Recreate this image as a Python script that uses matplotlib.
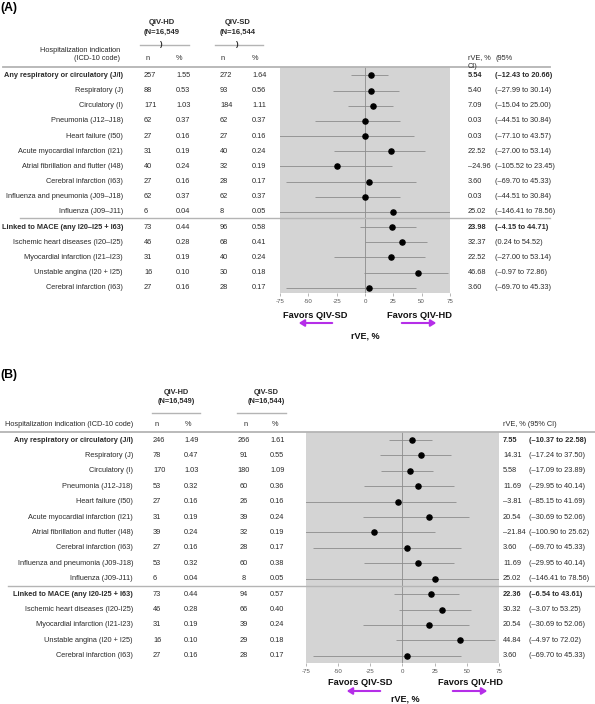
import matplotlib
matplotlib.use("Agg")
import matplotlib.pyplot as plt
from matplotlib.patches import FancyArrowPatch
from matplotlib.transforms import blended_transform_factory

plt.rcParams['font.family'] = ['Liberation Sans', 'DejaVu Sans']

# ===================
# DATA
# ===================
labels_a = ["Any respiratory or circulatory (J/I)", "Respiratory (J)", "Circulatory (I)",
            "Pneumonia (J12–J18)", "Heart failure (I50)", "Acute myocardial infarction (I21)",
            "Atrial fibrillation and flutter (I48)", "Cerebral infarction (I63)",
            "Influenza and pneumonia (J09–J18)", "Influenza (J09–J11)",
            "Linked to MACE (any I20–I25 + I63)", "Ischemic heart diseases (I20–I25)",
            "Myocardial infarction (I21–I23)", "Unstable angina (I20 + I25)",
            "Cerebral infarction (I63)"]
hd_n_a = [257, 88, 171, 62, 27, 31, 40, 27, 62, 6, 73, 46, 31, 16, 27]
hd_pct_a = ["1.55", "0.53", "1.03", "0.37", "0.16", "0.19", "0.24", "0.16", "0.37", "0.04",
            "0.44", "0.28", "0.19", "0.10", "0.16"]
sd_n_a = [272, 93, 184, 62, 27, 40, 32, 28, 62, 8, 96, 68, 40, 30, 28]
sd_pct_a = ["1.64", "0.56", "1.11", "0.37", "0.16", "0.24", "0.19", "0.17", "0.37", "0.05",
            "0.58", "0.41", "0.24", "0.18", "0.17"]
rve_a = [5.54, 5.40, 7.09, 0.03, 0.03, 22.52, -24.96, 3.60, 0.03, 25.02,
         23.98, 32.37, 22.52, 46.68, 3.60]
lo_a = [-12.43, -27.99, -15.04, -44.51, -77.10, -27.00, -105.52, -69.70, -44.51, -146.41,
        -4.15, 0.24, -27.00, -0.97, -69.70]
hi_a = [20.66, 30.14, 25.00, 30.84, 43.57, 53.14, 23.45, 45.33, 30.84, 78.56,
        44.71, 54.52, 53.14, 72.86, 45.33]

labels_b = ["Any respiratory or circulatory (J/I)", "Respiratory (J)", "Circulatory (I)",
            "Pneumonia (J12-J18)", "Heart failure (I50)", "Acute myocardial infarction (I21)",
            "Atrial fibrillation and flutter (I48)", "Cerebral infarction (I63)",
            "Influenza and pneumonia (J09-J18)", "Influenza (J09-J11)",
            "Linked to MACE (any I20-I25 + I63)", "Ischemic heart diseases (I20-I25)",
            "Myocardial infarction (I21-I23)", "Unstable angina (I20 + I25)",
            "Cerebral infarction (I63)"]
hd_n_b = [246, 78, 170, 53, 27, 31, 39, 27, 53, 6, 73, 46, 31, 16, 27]
hd_pct_b = ["1.49", "0.47", "1.03", "0.32", "0.16", "0.19", "0.24", "0.16", "0.32", "0.04",
            "0.44", "0.28", "0.19", "0.10", "0.16"]
sd_n_b = [266, 91, 180, 60, 26, 39, 32, 28, 60, 8, 94, 66, 39, 29, 28]
sd_pct_b = ["1.61", "0.55", "1.09", "0.36", "0.16", "0.24", "0.19", "0.17", "0.38", "0.05",
            "0.57", "0.40", "0.24", "0.18", "0.17"]
rve_b = [7.55, 14.31, 5.58, 11.69, -3.81, 20.54, -21.84, 3.60, 11.69, 25.02,
         22.36, 30.32, 20.54, 44.84, 3.60]
lo_b = [-10.37, -17.24, -17.09, -29.95, -85.15, -30.69, -100.90, -69.70, -29.95, -146.41,
        -6.54, -3.07, -30.69, -4.97, -69.70]
hi_b = [22.58, 37.50, 23.89, 40.14, 41.69, 52.06, 25.62, 45.33, 40.14, 78.56,
        43.61, 53.25, 52.06, 72.02, 45.33]

BOLD_ROWS = [0, 10]
TICKS = [-75, -50, -25, 0, 25, 50, 75]

# ===================
# CONFIGURATION (pixel layout)
# ===================
W, H = 595, 704
FS = 5.3
TXT = '#2a2a2a'
GRAY_BG = '#d4d4d4'
LINE_GRAY = '#8c8c8c'
RULE_GRAY = '#b4b4b4'
PURPLE = '#b52ee8'

fig = plt.figure(figsize=(W / 100, H / 100), dpi=100)


def fx(px):
    return px / W


def fy(py):
    return 1 - py / H


def fmt(v):
    s = f"{abs(v):.2f}"
    return ("–" + s) if v < 0 else s


def panel(cfg, labels, hd_n, hd_pct, sd_n, sd_pct, rve, lo, hi):
    left, right, top, bottom = cfg['plot_box']
    ax = fig.add_axes([fx(left), fy(bottom), fx(right - left), (bottom - top) / H])
    ax.set_facecolor(GRAY_BG)
    ax.set_xlim(-75, 75)
    ax.set_ylim(*cfg['ylim'])
    for s in ax.spines.values():
        s.set_visible(False)
    ax.set_yticks([])
    ax.set_xticks(TICKS)
    ax.set_xticklabels([str(t) for t in TICKS])
    ax.tick_params(axis='x', length=2, width=0.5, color='#999999', labelsize=4.4,
                   labelcolor='#555555', pad=2)
    ax.axvline(0, color=LINE_GRAY, lw=0.6, zorder=1)

    rows = list(range(len(labels)))
    ax.hlines(rows, lo, hi, color=LINE_GRAY, lw=0.6, zorder=2)
    ax.plot(rve, rows, 'o', color='black', ms=3.7, zorder=3)

    tr = blended_transform_factory(fig.transFigure, ax.transData)
    for i in rows:
        w = 'bold' if i in BOLD_ROWS else 'normal'
        ax.text(fx(cfg['label_x']), i, labels[i], transform=tr, ha='right', va='center',
                fontsize=FS, weight=w, color=TXT)
        ax.text(fx(cfg['hd_n_x']), i, str(hd_n[i]), transform=tr, ha='left', va='center',
                fontsize=FS, color=TXT)
        ax.text(fx(cfg['hd_p_x']), i, hd_pct[i], transform=tr, ha='left', va='center',
                fontsize=FS, color=TXT)
        ax.text(fx(cfg['sd_n_x']), i, str(sd_n[i]), transform=tr, ha=cfg['sd_n_ha'],
                va='center', fontsize=FS, color=TXT)
        ax.text(fx(cfg['sd_p_x']), i, sd_pct[i], transform=tr, ha='left', va='center',
                fontsize=FS, color=TXT)
        ax.text(fx(cfg['val_x']), i, fmt(rve[i]), transform=tr, ha='left', va='center',
                fontsize=FS, weight=w, color=TXT)
        ax.text(fx(cfg['ci_x']), i, f"({fmt(lo[i])} to {fmt(hi[i])})", transform=tr,
                ha='left', va='center', fontsize=FS, weight=w, color=TXT)

    # rules: header line and section separator
    x0, x1 = cfg['header_rule']
    ax.plot([fx(x0), fx(x1)], [cfg['ylim'][1]] * 2, transform=tr, color=RULE_GRAY,
            lw=1.3, clip_on=False, zorder=4)
    x0, x1 = cfg['sep_rule']
    ax.plot([fx(x0), fx(x1)], [cfg['sep_y']] * 2, transform=tr, color=RULE_GRAY,
            lw=1.0, clip_on=False, zorder=4)
    for a, b in cfg['group_rules']:
        fig.add_artist(plt.Line2D([fx(a), fx(b)], [fy(cfg['group_rule_y'])] * 2,
                                  color=RULE_GRAY, lw=1.0))

    # favors arrows and axis title
    ay = fy(cfg['arrow_y'])
    for (xs, xe) in cfg['arrows']:
        fig.add_artist(FancyArrowPatch(
            (fx(xs), ay), (fx(xe), ay), transform=fig.transFigure,
            arrowstyle='-|>,head_length=3.2,head_width=2', color=PURPLE, lw=1.5,
            mutation_scale=1))
    for txt, x in cfg['favors']:
        fig.text(fx(x), fy(cfg['favors_y']), txt, ha='center', va='center',
                 fontsize=6.7, weight='bold', color='#111111')
    fig.text(fx(cfg['rve_x']), fy(cfg['rve_y']), "rVE, %", ha='center', va='center',
             fontsize=6.5, weight='bold', color='#111111')
    return ax


# ===================
# PANEL A
# ===================
cfg_a = dict(plot_box=(280, 450, 67, 293), ylim=(14.35, -0.55),
             label_x=123, hd_n_x=144, hd_p_x=176, sd_n_x=220, sd_n_ha='left', sd_p_x=252,
             val_x=468, ci_x=495, header_rule=(3, 550), sep_rule=(20, 550), sep_y=9.4,
             group_rules=[(140, 189), (215, 263)], group_rule_y=44.5,
             arrow_y=323, arrows=[(335, 296), (399, 439)],
             favors=[("Favors QIV-SD", 315), ("Favors QIV-HD", 419)], favors_y=315,
             rve_x=365, rve_y=336)
panel(cfg_a, labels_a, hd_n_a, hd_pct_a, sd_n_a, sd_pct_a, rve_a, lo_a, hi_a)

fig.text(0, fy(8.5), "(A)", ha='left', va='center', fontsize=8.8, weight='bold')
for x, grp, n in [(162, "QIV-HD", "(N=16,549"), (238, "QIV-SD", "(N=16,544")]:
    fig.text(fx(x), fy(23), grp, ha='center', va='center', fontsize=5.5, weight='bold',
             color=TXT)
    fig.text(fx(x), fy(33), n, ha='center', va='center', fontsize=5.5, weight='bold',
             color=TXT)
    fig.text(fx(x - 1), fy(44), ")", ha='center', va='center', fontsize=5.5,
             weight='bold', color=TXT)
fig.text(fx(120), fy(50), "Hospitalization indication", ha='right', va='center',
         fontsize=FS, color=TXT)
fig.text(fx(120), fy(59), "(ICD-10 code)", ha='right', va='center', fontsize=FS, color=TXT)
for txt, x in [("n", 146), ("%", 176), ("n", 221), ("%", 252)]:
    fig.text(fx(x), fy(59), txt, ha='left', va='center', fontsize=FS, color=TXT)
fig.text(fx(468), fy(58), "rVE, %", ha='left', va='center', fontsize=FS, color=TXT)
fig.text(fx(495), fy(58), "(95%", ha='left', va='center', fontsize=FS, color=TXT)
fig.text(fx(468), fy(66.5), "CI)", ha='left', va='center', fontsize=FS, color=TXT)

# ===================
# PANEL B
# ===================
cfg_b = dict(plot_box=(306, 499, 432, 663), ylim=(14.47, -0.52),
             label_x=133, hd_n_x=153, hd_p_x=184, sd_n_x=244, sd_n_ha='center', sd_p_x=270,
             val_x=503, ci_x=529, header_rule=(0, 595), sep_rule=(8, 595), sep_y=9.45,
             group_rules=[(152, 200), (237, 286)], group_rule_y=413,
             arrow_y=691, arrows=[(383, 344), (450, 490)],
             favors=[("Favors QIV-SD", 360), ("Favors QIV-HD", 470)], favors_y=682.5,
             rve_x=405, rve_y=699)
panel(cfg_b, labels_b, hd_n_b, hd_pct_b, sd_n_b, sd_pct_b, rve_b, lo_b, hi_b)

fig.text(0, fy(375), "(B)", ha='left', va='center', fontsize=8.8, weight='bold')
for x, grp, n in [(176, "QIV-HD", "(N=16,549)"), (266, "QIV-SD", "(N=16,544)")]:
    fig.text(fx(x), fy(392.5), grp, ha='center', va='center', fontsize=5.3, weight='bold',
             color=TXT)
    fig.text(fx(x), fy(401.5), n, ha='center', va='center', fontsize=5.3, weight='bold',
             color=TXT)
fig.text(fx(133), fy(424), "Hospitalization indication (ICD-10 code)", ha='right',
         va='center', fontsize=FS, color=TXT)
for txt, x in [("n", 155), ("%", 185), ("n", 244), ("%", 272)]:
    fig.text(fx(x), fy(424), txt, ha='left', va='center', fontsize=FS, color=TXT)
fig.text(fx(503), fy(424), "rVE, % (95% CI)", ha='left', va='center', fontsize=FS,
         color=TXT)

fig.savefig("out.png", dpi=100, facecolor='white')
